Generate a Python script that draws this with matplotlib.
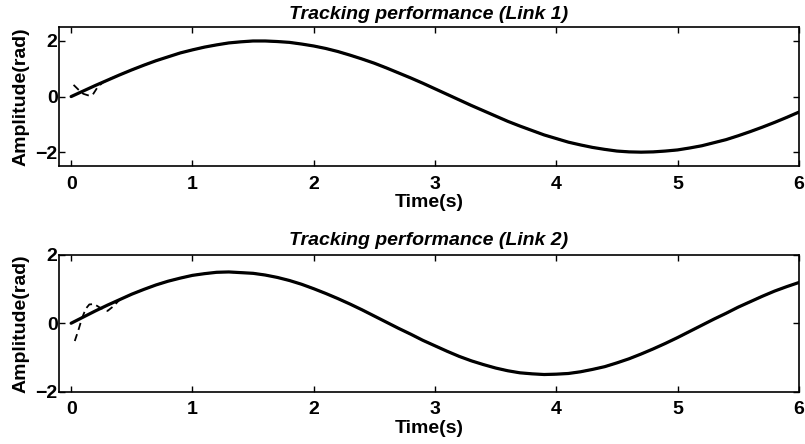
import matplotlib
matplotlib.use("Agg")
import matplotlib.pyplot as plt

plt.rcParams['font.family'] = ['Liberation Sans', 'DejaVu Sans']
plt.rcParams['font.weight'] = 'bold'

# Sample times (s) for the reference trajectories, 0 .. 6 s every 0.1 s
t_grid = [0.0, 0.1, 0.2, 0.3, 0.4, 0.5, 0.6, 0.7, 0.8, 0.9,
          1.0, 1.1, 1.2, 1.3, 1.4, 1.5, 1.6, 1.7, 1.8, 1.9,
          2.0, 2.1, 2.2, 2.3, 2.4, 2.5, 2.6, 2.7, 2.8, 2.9,
          3.0, 3.1, 3.2, 3.3, 3.4, 3.5, 3.6, 3.7, 3.8, 3.9,
          4.0, 4.1, 4.2, 4.3, 4.4, 4.5, 4.6, 4.7, 4.8, 4.9,
          5.0, 5.1, 5.2, 5.3, 5.4, 5.5, 5.6, 5.7, 5.8, 5.9, 6.0]

# Link 1 desired trajectory (rad)
link1_desired = [0.00, 0.20, 0.40, 0.59, 0.78, 0.96, 1.13, 1.29, 1.43, 1.57,
                 1.68, 1.78, 1.86, 1.93, 1.97, 2.00, 2.00, 1.98, 1.95, 1.89,
                 1.82, 1.73, 1.62, 1.49, 1.35, 1.20, 1.03, 0.85, 0.67, 0.48,
                 0.28, 0.08, -0.12, -0.32, -0.51, -0.70, -0.89, -1.06, -1.22, -1.38,
                 -1.51, -1.64, -1.74, -1.83, -1.90, -1.96, -1.99, -2.00, -1.99, -1.96,
                 -1.92, -1.85, -1.77, -1.66, -1.55, -1.41, -1.26, -1.10, -0.93, -0.75,
                 -0.56]

# Link 2 desired trajectory (rad)
link2_desired = [0.00, 0.18, 0.36, 0.53, 0.69, 0.85, 0.99, 1.12, 1.23, 1.32,
                 1.40, 1.45, 1.49, 1.50, 1.48, 1.46, 1.41, 1.34, 1.25, 1.14,
                 1.01, 0.87, 0.72, 0.56, 0.39, 0.21, 0.03, -0.15, -0.32, -0.50,
                 -0.66, -0.82, -0.97, -1.10, -1.21, -1.31, -1.39, -1.45, -1.48, -1.50,
                 -1.49, -1.47, -1.42, -1.35, -1.27, -1.16, -1.04, -0.90, -0.75, -0.59,
                 -0.42, -0.24, -0.06, 0.12, 0.29, 0.47, 0.63, 0.79, 0.94, 1.07,
                 1.19]

# Actual responses during the initial transient (before they settle on the reference)
link1_transient_t = [0.02, 0.06, 0.10, 0.15, 0.18, 0.22, 0.26, 0.30]
link1_transient = [0.42, 0.25, 0.10, 0.03, 0.08, 0.35, 0.50, 0.60]
link2_transient_t = [0.03, 0.06, 0.09, 0.12, 0.15, 0.19, 0.24, 0.30, 0.35]
link2_transient = [-0.52, -0.20, 0.15, 0.42, 0.55, 0.56, 0.45, 0.36, 0.50]

settle_index = 4  # grid index (t = 0.4 s) from which the response follows the reference


def draw(ax, desired, trans_t, trans_v, title, ylim, title_pad):
    ax.plot(t_grid, desired, color='black', lw=2.3, solid_capstyle='round',
            solid_joinstyle='round')
    act_t = trans_t + t_grid[settle_index:]
    act_v = trans_v + desired[settle_index:]
    ax.plot(act_t, act_v, color='black', lw=1.3, linestyle=(0, (4, 2.5)))
    ax.set_xlim(-0.1, 6)
    ax.set_ylim(*ylim)
    ax.set_xticks([0, 1, 2, 3, 4, 5, 6])
    ax.set_yticks([-2, 0, 2])
    ax.tick_params(direction='in', top=True, right=True, length=4, width=1,
                   labelsize=14)
    ax.tick_params(axis='x', pad=7)
    ax.tick_params(axis='y', pad=1)
    for s in ax.spines.values():
        s.set_linewidth(1.2)
    ax.set_title(title, fontsize=14, fontweight='bold', style='italic',
                 pad=title_pad)
    ax.set_xlabel('Time(s)', fontsize=14, fontweight='bold', labelpad=1)
    ax.set_ylabel('Amplitude(rad)', fontsize=14, fontweight='bold', labelpad=4)


fig = plt.figure(figsize=(8.05, 4.44), dpi=100)
ax1 = fig.add_axes([0.0733, 0.626, 0.919, 0.313])
ax2 = fig.add_axes([0.0733, 0.118, 0.919, 0.308])

draw(ax1, link1_desired, link1_transient_t, link1_transient,
     'Tracking performance (Link 1)', (-2.5, 2.5), 6)
draw(ax2, link2_desired, link2_transient_t, link2_transient,
     'Tracking performance (Link 2)', (-2, 2), 7)

fig.savefig('out.png', dpi=100)
